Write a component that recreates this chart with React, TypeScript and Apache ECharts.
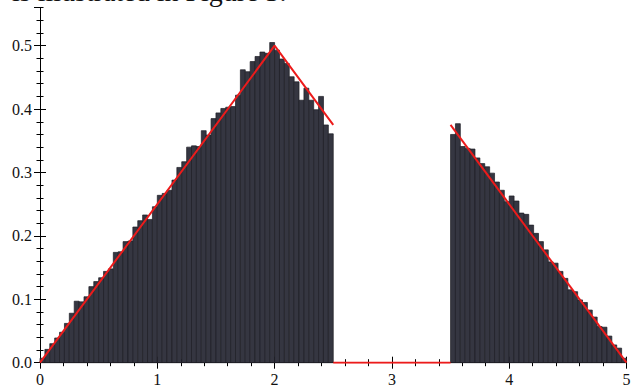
import React, { useEffect, useRef } from "react";
import * as echarts from "echarts";

// Histogram bins: width 1/24, left block starts at 0, right block starts at 3.5
const binWidth = 1 / 24;
const leftStart = 0;
const rightStart = 3.5;

const leftHeights = [
  0.007, 0.021, 0.030, 0.039, 0.048, 0.062, 0.078, 0.097, 0.096, 0.104,
  0.120, 0.128, 0.134, 0.144, 0.148, 0.174, 0.175, 0.191, 0.192, 0.214,
  0.224, 0.233, 0.226, 0.246, 0.264, 0.267, 0.272, 0.288, 0.308, 0.317,
  0.340, 0.342, 0.341, 0.366, 0.359, 0.385, 0.394, 0.401, 0.403, 0.404,
  0.422, 0.462, 0.459, 0.475, 0.483, 0.490, 0.488, 0.505, 0.493, 0.479,
  0.472, 0.451, 0.443, 0.414, 0.433, 0.414, 0.399, 0.420, 0.375, 0.361,
];

const rightHeights = [
  0.360, 0.377, 0.341, 0.338, 0.337, 0.323, 0.314, 0.309, 0.299, 0.285,
  0.272, 0.254, 0.263, 0.255, 0.236, 0.234, 0.217, 0.204, 0.191, 0.178,
  0.159, 0.157, 0.144, 0.133, 0.115, 0.112, 0.099, 0.095, 0.083, 0.072,
  0.057, 0.056, 0.042, 0.028, 0.023, 0.007,
];

// Density curve (red), three separate pieces
const densityRise = [[0, 0], [2, 0.5], [2.5, 0.375]];
const densityGap = [[2.5, 0], [3.5, 0]];
const densityFall = [[3.5, 0.375], [5, 0]];

const xTickLabels = ["0", "1", "2", "3", "4", "5"];
const yTickLabels = ["0.0", "0.1", "0.2", "0.3", "0.4", "0.5"];

const headerText = "is illustrated in Figure 3.";

const FONT = "'Liberation Serif', 'Times New Roman', serif";

export default function App() {
  const ref = useRef<HTMLDivElement>(null);
  useEffect(() => {
    if (!ref.current) return;
    const chart = echarts.init(ref.current, null, { renderer: "svg" });

    const bins: number[][] = [];
    leftHeights.forEach((h, i) => {
      const x0 = leftStart + i * binWidth;
      bins.push([x0, x0 + binWidth, h]);
    });
    rightHeights.forEach((h, i) => {
      const x0 = rightStart + i * binWidth;
      bins.push([x0, x0 + binWidth, h]);
    });

    const gridLeft = 40;
    const gridTop = 7.66;
    const gridWidth = 586.5;
    const gridHeight = 355.04;

    const majorTick = { show: true, inside: true, length: 6, lineStyle: { color: "#000", width: 1 } };
    const minorTickStyle = { show: true, inside: true, length: 3.5, lineStyle: { color: "#000", width: 1 } };

    const xBase = { type: "value", min: 0, max: 5, splitLine: { show: false } };
    const yBase = { type: "value", min: 0, max: 0.56, splitLine: { show: false } };

    const line = (data: number[][]) => ({
      type: "line",
      data,
      xAxisIndex: 0,
      yAxisIndex: 0,
      symbol: "none",
      z: 5,
      lineStyle: { color: "#ec1b1b", width: 2 },
      silent: true,
    });

    chart.setOption({
      animation: false,
      grid: { left: gridLeft, top: gridTop, width: gridWidth, height: gridHeight, containLabel: false },
      xAxis: [
        {
          ...xBase,
          position: "bottom",
          interval: 1,
          axisLine: { show: true, lineStyle: { color: "#000", width: 1 } },
          axisTick: majorTick,
          axisLabel: {
            show: true,
            margin: 9,
            color: "#111",
            fontFamily: FONT,
            fontSize: 16,
            formatter: (v: number) => xTickLabels[Math.round(v)] ?? "",
          },
        },
        {
          ...xBase,
          position: "bottom",
          interval: 0.2,
          axisLine: { show: false },
          axisTick: minorTickStyle,
          axisLabel: { show: false },
        },
        {
          ...xBase,
          position: "top",
          interval: 1,
          axisLine: { show: true, lineStyle: { color: "#000", width: 1 } },
          axisTick: majorTick,
          axisLabel: { show: false },
        },
        {
          ...xBase,
          position: "top",
          interval: 0.2,
          axisLine: { show: false },
          axisTick: minorTickStyle,
          axisLabel: { show: false },
        },
      ],
      yAxis: [
        {
          ...yBase,
          position: "left",
          interval: 0.1,
          axisLine: { show: true, lineStyle: { color: "#000", width: 1 } },
          axisTick: majorTick,
          axisLabel: {
            show: true,
            margin: 8,
            color: "#111",
            fontFamily: FONT,
            fontSize: 16,
            showMaxLabel: false,
            formatter: (v: number) => {
              const k = Math.round(v * 10);
              return Math.abs(v * 10 - k) < 1e-6 ? yTickLabels[k] ?? "" : "";
            },
          },
        },
        {
          ...yBase,
          position: "left",
          interval: 0.02,
          axisLine: { show: false },
          axisTick: minorTickStyle,
          axisLabel: { show: false },
        },
        {
          ...yBase,
          position: "right",
          interval: 0.1,
          axisLine: { show: true, lineStyle: { color: "#000", width: 1 } },
          axisTick: majorTick,
          axisLabel: { show: false },
        },
        {
          ...yBase,
          position: "right",
          interval: 0.02,
          axisLine: { show: false },
          axisTick: minorTickStyle,
          axisLabel: { show: false },
        },
      ],
      graphic: [
        {
          type: "text",
          x: 12,
          y: -8.5,
          style: {
            text: headerText,
            fontFamily: FONT,
            fontSize: 28,
            fill: "#111",
            verticalAlign: "middle",
            align: "left",
          },
        },
      ],
      series: [
        {
          type: "custom",
          xAxisIndex: 0,
          yAxisIndex: 0,
          data: bins,
          encode: { x: [0, 1], y: 2 },
          z: 2,
          renderItem: (params: any, api: any) => {
            const x0 = api.value(0);
            const x1 = api.value(1);
            const h = api.value(2);
            const p0 = api.coord([x0, h]);
            const p1 = api.coord([x1, 0]);
            return {
              type: "rect",
              shape: { x: p0[0], y: p0[1], width: p1[0] - p0[0], height: p1[1] - p0[1] },
              style: { fill: "#353641", stroke: "#1c1d24", lineWidth: 0.7 },
            };
          },
        },
        line(densityRise),
        line(densityGap),
        line(densityFall),
      ],
    });
    return () => chart.dispose();
  }, []);
  return (
    <div
      ref={ref}
      style={{ position: "fixed", left: 0, top: 0, width: 634, height: 391, background: "#fff" }}
    />
  );
}
